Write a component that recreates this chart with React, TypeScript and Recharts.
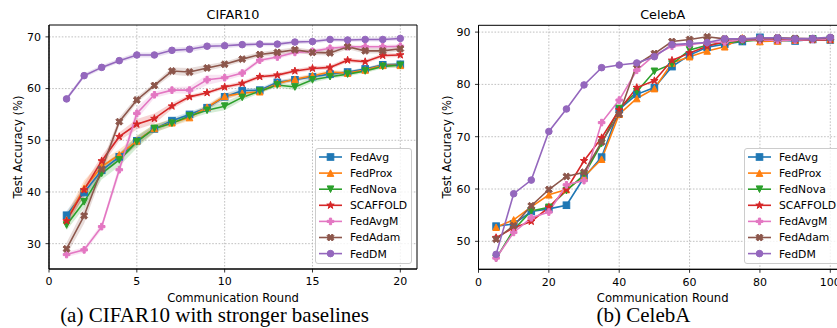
import React from 'react';
import { ComposedChart, Line, Area, XAxis, YAxis, CartesianGrid, ReferenceArea } from 'recharts';

// ---------- CIFAR10 (rounds 1..20) ----------
const cifarRounds = [1, 2, 3, 4, 5, 6, 7, 8, 9, 10, 11, 12, 13, 14, 15, 16, 17, 18, 19, 20];
const cifarFedAvg = [35.5, 39.9, 44.2, 46.8, 49.9, 52.2, 53.8, 55.0, 56.3, 58.4, 59.6, 59.7, 61.2, 61.7, 62.3, 62.8, 63.2, 63.8, 64.6, 64.7];
const cifarFedProx = [34.6, 40.7, 44.9, 47.2, 49.9, 52.3, 53.4, 54.4, 56.4, 58.5, 59.1, 59.4, 61.0, 61.8, 62.5, 63.2, 63.0, 63.6, 64.5, 64.5];
const cifarFedNova = [33.6, 38.1, 43.6, 46.2, 49.7, 52.3, 53.3, 54.7, 55.8, 56.6, 58.3, 59.5, 60.7, 60.3, 61.7, 62.3, 62.8, 63.4, 64.3, 64.5];
const cifarScaffold = [34.4, 40.4, 46.0, 50.7, 53.1, 54.2, 56.6, 58.4, 59.2, 60.3, 61.0, 62.3, 62.6, 63.4, 63.9, 64.1, 65.5, 65.2, 66.4, 66.5];
const cifarFedAvgM = [27.9, 28.8, 33.3, 44.3, 55.2, 58.8, 59.7, 59.7, 61.7, 62.1, 63.0, 65.5, 66.1, 67.0, 67.2, 67.8, 68.1, 68.1, 68.1, 68.2];
const cifarFedAdam = [29.0, 35.4, 44.4, 53.6, 57.8, 60.6, 63.4, 63.2, 64.0, 64.7, 65.7, 66.6, 67.0, 67.5, 67.0, 66.9, 68.1, 67.3, 67.3, 67.7];
const cifarFedDM = [58.0, 62.5, 64.1, 65.4, 66.5, 66.5, 67.4, 67.6, 68.2, 68.3, 68.5, 68.6, 68.6, 69.0, 69.1, 69.5, 69.4, 69.5, 69.5, 69.7];

// standard deviation across runs (shaded bands)
const cifarFedAvgStd = [0.8, 1.0, 1.0, 0.8, 0.8, 0.6, 0.5, 0.5, 0.4, 0.6, 0.5, 0.4, 0.4, 0.4, 0.4, 0.3, 0.3, 0.3, 0.3, 0.3];
const cifarFedProxStd = [1.2, 1.5, 1.2, 1.0, 1.0, 0.8, 0.7, 0.6, 0.5, 0.6, 0.4, 0.4, 0.4, 0.4, 0.4, 0.4, 0.4, 0.4, 0.4, 0.4];
const cifarFedNovaStd = [1.0, 1.2, 1.2, 1.2, 1.2, 0.8, 0.6, 0.6, 0.6, 0.8, 0.6, 0.4, 0.4, 0.6, 0.5, 0.4, 0.4, 0.4, 0.4, 0.4];
const cifarScaffoldStd = [1.0, 1.2, 1.0, 0.8, 1.0, 1.0, 0.6, 0.4, 0.4, 0.4, 0.4, 0.4, 0.4, 0.4, 0.4, 0.4, 0.4, 0.4, 0.4, 0.4];
const cifarFedAvgMStd = [0.5, 0.5, 0.6, 1.0, 1.2, 0.6, 0.6, 0.7, 1.0, 0.6, 0.5, 0.4, 0.4, 0.4, 0.4, 0.4, 0.4, 0.4, 0.4, 0.4];
const cifarFedAdamStd = [1.2, 1.5, 1.2, 0.8, 0.6, 0.5, 0.7, 0.8, 0.6, 0.5, 0.5, 0.5, 0.5, 0.5, 0.5, 0.5, 0.5, 0.5, 0.5, 0.5];
const cifarFedDMStd = [0.4, 0.4, 0.4, 0.4, 0.5, 0.5, 0.5, 0.5, 0.5, 0.5, 0.4, 0.4, 0.4, 0.4, 0.4, 0.4, 0.4, 0.4, 0.4, 0.4];

// ---------- CelebA (rounds 5..100) ----------
const celebaRounds = [5, 10, 15, 20, 25, 30, 35, 40, 45, 50, 55, 60, 65, 70, 75, 80, 85, 90, 95, 100];
const celebaFedAvg = [52.9, 53.3, 55.7, 56.2, 56.9, 62.2, 66.1, 75.2, 78.1, 79.4, 83.4, 85.6, 87.1, 87.7, 88.2, 89.0, 88.4, 88.3, 88.6, 88.5];
const celebaFedProx = [52.7, 54.1, 56.6, 58.9, 59.9, 62.4, 65.7, 74.3, 77.3, 79.2, 84.1, 85.3, 86.4, 87.2, 88.9, 88.2, 88.3, 88.5, 88.7, 88.6];
const celebaFedNova = [46.7, 52.2, 55.8, 56.5, 59.7, 62.7, 68.7, 75.4, 78.6, 82.5, 83.9, 86.6, 87.5, 88.0, 88.2, 88.5, 88.5, 88.6, 88.7, 88.7];
const celebaScaffold = [50.7, 52.6, 53.8, 56.5, 59.9, 65.4, 69.8, 75.1, 79.4, 80.7, 84.6, 86.0, 87.3, 88.2, 88.5, 88.5, 88.5, 88.5, 88.5, 88.5];
const celebaFedAvgM = [46.8, 51.7, 54.5, 55.6, 60.8, 61.6, 72.7, 77.0, 82.7, 85.6, 87.3, 87.6, 88.0, 88.1, 88.6, 88.5, 88.4, 88.5, 88.6, 88.7];
const celebaFedAdam = [50.4, 53.0, 56.8, 59.9, 62.4, 63.2, 69.0, 74.3, 83.8, 85.9, 88.2, 88.6, 89.1, 88.7, 88.7, 88.7, 88.9, 88.8, 88.7, 88.9];
const celebaFedDM = [47.5, 59.1, 61.7, 71.0, 75.3, 79.9, 83.2, 83.7, 84.1, 85.3, 87.6, 87.8, 88.0, 88.7, 88.7, 88.9, 88.9, 88.7, 88.8, 89.0];

// ---------- axis ticks ----------
const cifarXTicks = [0, 5, 10, 15, 20];
const cifarYTicks = [30, 40, 50, 60, 70];
const celebaXTicks = [0, 20, 40, 60, 80, 100];
const celebaYTicks = [50, 60, 70, 80, 90];

type Shape = 'square' | 'triUp' | 'triDown' | 'star' | 'plus' | 'x' | 'circle';

const SERIES: { key: string; color: string; shape: Shape }[] = [
  { key: 'FedAvg', color: '#1f77b4', shape: 'square' },
  { key: 'FedProx', color: '#ff7f0e', shape: 'triUp' },
  { key: 'FedNova', color: '#2ca02c', shape: 'triDown' },
  { key: 'SCAFFOLD', color: '#d62728', shape: 'star' },
  { key: 'FedAvgM', color: '#e377c2', shape: 'plus' },
  { key: 'FedAdam', color: '#8c564b', shape: 'x' },
  { key: 'FedDM', color: '#9467bd', shape: 'circle' },
];

const cifarValues: Record<string, number[]> = {
  FedAvg: cifarFedAvg, FedProx: cifarFedProx, FedNova: cifarFedNova, SCAFFOLD: cifarScaffold,
  FedAvgM: cifarFedAvgM, FedAdam: cifarFedAdam, FedDM: cifarFedDM,
};
const cifarStd: Record<string, number[]> = {
  FedAvg: cifarFedAvgStd, FedProx: cifarFedProxStd, FedNova: cifarFedNovaStd, SCAFFOLD: cifarScaffoldStd,
  FedAvgM: cifarFedAvgMStd, FedAdam: cifarFedAdamStd, FedDM: cifarFedDMStd,
};
const celebaValues: Record<string, number[]> = {
  FedAvg: celebaFedAvg, FedProx: celebaFedProx, FedNova: celebaFedNova, SCAFFOLD: celebaScaffold,
  FedAvgM: celebaFedAvgM, FedAdam: celebaFedAdam, FedDM: celebaFedDM,
};

const cifarData = cifarRounds.map((r, i) => {
  const row: any = { x: r };
  SERIES.forEach((s) => {
    const v = cifarValues[s.key][i];
    const d = cifarStd[s.key][i];
    row[s.key] = v;
    row[s.key + '_band'] = [v - d, v + d];
  });
  return row;
});

const celebaData = celebaRounds.map((r, i) => {
  const row: any = { x: r };
  SERIES.forEach((s) => {
    row[s.key] = celebaValues[s.key][i];
  });
  return row;
});

const FONT = '"DejaVu Sans", sans-serif';

function plusPoints(cx: number, cy: number, size: number, rot: number) {
  const u = size / 6;
  const base = [
    [-1, -3], [1, -3], [1, -1], [3, -1], [3, 1], [1, 1],
    [1, 3], [-1, 3], [-1, 1], [-3, 1], [-3, -1], [-1, -1],
  ];
  const c = Math.cos(rot);
  const s = Math.sin(rot);
  return base
    .map(([px, py]) => {
      const x = px * u;
      const y = py * u;
      return `${cx + x * c - y * s},${cy + x * s + y * c}`;
    })
    .join(' ');
}

function starPoints(cx: number, cy: number, outer: number, inner: number) {
  const pts: string[] = [];
  for (let k = 0; k < 10; k++) {
    const r = k % 2 === 0 ? outer : inner;
    const a = -Math.PI / 2 + (k * Math.PI) / 5;
    pts.push(`${cx + r * Math.cos(a)},${cy + r * Math.sin(a)}`);
  }
  return pts.join(' ');
}

function Marker({ shape, cx, cy, color }: { shape: Shape; cx: number; cy: number; color: string }) {
  const h = 3.3;
  const common = { fill: color, stroke: color, strokeWidth: 1, strokeLinejoin: 'miter' as const };
  switch (shape) {
    case 'square':
      return <rect x={cx - h} y={cy - h} width={2 * h} height={2 * h} {...common} />;
    case 'triUp':
      return <polygon points={`${cx},${cy - h} ${cx + h},${cy + h} ${cx - h},${cy + h}`} {...common} />;
    case 'triDown':
      return <polygon points={`${cx},${cy + h} ${cx + h},${cy - h} ${cx - h},${cy - h}`} {...common} />;
    case 'star':
      return <polygon points={starPoints(cx, cy, 3.9, 1.5)} {...common} />;
    case 'plus':
      return <polygon points={plusPoints(cx, cy, 6.6, 0)} {...common} />;
    case 'x':
      return <polygon points={plusPoints(cx, cy, 7.4, Math.PI / 4)} {...common} />;
    default:
      return <circle cx={cx} cy={cy} r={h} {...common} />;
  }
}

const makeDot = (shape: Shape, color: string) => (props: any) => {
  const { cx, cy, index } = props;
  if (cx == null || cy == null || isNaN(cx) || isNaN(cy)) return <g key={`d-${index}`} />;
  return (
    <g key={`d-${index}`}>
      <Marker shape={shape} cx={cx} cy={cy} color={color} />
    </g>
  );
};

const tickStyle = { fontFamily: FONT, fontSize: 11, fill: '#000' };

function Legend({ left, top, width }: { left: number; top: number; width: number }) {
  const rowH = 16.1;
  return (
    <div
      style={{
        position: 'absolute',
        left,
        top,
        width,
        height: 116,
        background: 'rgba(255,255,255,0.8)',
        border: '1px solid #cccccc',
        borderRadius: 3,
        boxSizing: 'border-box',
      }}
    >
      <svg width={width} height={116} style={{ position: 'absolute', left: -1, top: -1 }}>
        {SERIES.map((s, i) => {
          const y = 9 + i * rowH;
          return (
            <g key={s.key}>
              <line x1={4} x2={27} y1={y} y2={y} stroke={s.color} strokeWidth={1.6} />
              <Marker shape={s.shape} cx={15.5} cy={y} color={s.color} />
              <text x={35} y={y + 3.9} fontFamily={FONT} fontSize={10.8} fill="#000">
                {s.key}
              </text>
            </g>
          );
        })}
      </svg>
    </div>
  );
}

function Panel({
  data,
  width,
  yWidth,
  top,
  bottom,
  xDomain,
  yDomain,
  xTicks,
  yTicks,
  bands,
}: {
  data: any[];
  width: number;
  yWidth: number;
  top: number;
  bottom: number;
  xDomain: [number, number];
  yDomain: [number, number];
  xTicks: number[];
  yTicks: number[];
  bands: boolean;
}) {
  return (
    <ComposedChart width={width} height={328} data={data} margin={{ top, right: 3, bottom, left: 0 }}>
      <CartesianGrid
        xAxisId="b"
        yAxisId="l"
        stroke="#b0b0b0"
        strokeWidth={0.8}
        strokeDasharray="1.6 1.6"
        horizontalValues={yTicks}
        verticalValues={xTicks}
      />
      <XAxis
        xAxisId="b"
        dataKey="x"
        type="number"
        domain={xDomain}
        ticks={xTicks}
        allowDataOverflow
        height={20}
        tickSize={3.5}
        tickMargin={5}
        tick={tickStyle}
        stroke="#000"
        axisLine={{ stroke: '#000', strokeWidth: 1 }}
        tickLine={{ stroke: '#000', strokeWidth: 0.8 }}
      />
      <YAxis
        yAxisId="l"
        type="number"
        domain={yDomain}
        ticks={yTicks}
        allowDataOverflow
        width={yWidth}
        tickSize={3.5}
        tickMargin={4.5}
        tick={tickStyle}
        stroke="#000"
        axisLine={{ stroke: '#000', strokeWidth: 1 }}
        tickLine={{ stroke: '#000', strokeWidth: 0.8 }}
      />
      {bands &&
        SERIES.map((s) => (
          <Area
            key={s.key + '_band'}
            xAxisId="b"
            yAxisId="l"
            type="linear"
            dataKey={s.key + '_band'}
            stroke="none"
            fill={s.color}
            fillOpacity={0.2}
            isAnimationActive={false}
            dot={false}
            activeDot={false}
          />
        ))}
      {SERIES.map((s) => (
        <Line
          key={s.key}
          xAxisId="b"
          yAxisId="l"
          type="linear"
          dataKey={s.key}
          stroke={s.color}
          strokeWidth={1.6}
          dot={makeDot(s.shape, s.color)}
          activeDot={false}
          isAnimationActive={false}
        />
      ))}
      {/* axes frame */}
      <ReferenceArea
        xAxisId="b"
        yAxisId="l"
        x1={xDomain[0]}
        x2={xDomain[1]}
        y1={yDomain[0]}
        y2={yDomain[1]}
        fill="none"
        fillOpacity={0}
        stroke="#000"
        strokeWidth={1}
        ifOverflow="visible"
      />
    </ComposedChart>
  );
}

export default function App() {
  return (
    <div
      style={{
        position: 'absolute',
        left: 0,
        top: 0,
        width: 837,
        height: 328,
        overflow: 'hidden',
        background: '#fff',
      }}
    >
      <div style={{ position: 'absolute', left: 0, top: 0 }}>
        <Panel
          data={cifarData}
          width={420}
          yWidth={49}
          top={25}
          bottom={39}
          xDomain={[0, 20.95]}
          yDomain={[25.1, 72.3]}
          xTicks={cifarXTicks}
          yTicks={cifarYTicks}
          bands
        />
      </div>
      <div style={{ position: 'absolute', left: 420, top: 0 }}>
        <Panel
          data={celebaData}
          width={430}
          yWidth={58.5}
          top={25.3}
          bottom={38.7}
          xDomain={[0, 104.75]}
          yDomain={[44.65, 91.3]}
          xTicks={celebaXTicks}
          yTicks={celebaYTicks}
          bands={false}
        />
      </div>
      <Legend left={315} top={148} width={97} />
      <Legend left={744} top={148} width={100} />
      <svg width={837} height={328} style={{ position: 'absolute', left: 0, top: 0, pointerEvents: 'none' }}>
        <text x={233} y={18.5} textAnchor="middle" fontFamily={FONT} fontSize={12.8} fill="#000">CIFAR10</text>
        <text x={662.7} y={18.5} textAnchor="middle" fontFamily={FONT} fontSize={12.8} fill="#000">CelebA</text>
        <text x={233} y={301.8} textAnchor="middle" fontFamily={FONT} fontSize={11.6} fill="#000">Communication Round</text>
        <text x={662.7} y={301.8} textAnchor="middle" fontFamily={FONT} fontSize={11.6} fill="#000">Communication Round</text>
        <text transform="translate(21.5,147) rotate(-90)" textAnchor="middle" fontFamily={FONT} fontSize={11.6} fill="#000">Test Accuracy (%)</text>
        <text transform="translate(450.5,147) rotate(-90)" textAnchor="middle" fontFamily={FONT} fontSize={11.6} fill="#000">Test Accuracy (%)</text>
        <text x={214.5} y={322} textAnchor="middle" fontFamily='"Liberation Serif", serif' fontSize={21} fill="#000">(a) CIFAR10 with stronger baselines</text>
        <text x={643.5} y={322} textAnchor="middle" fontFamily='"Liberation Serif", serif' fontSize={21} fill="#000">(b) CelebA</text>
      </svg>
    </div>
  );
}
